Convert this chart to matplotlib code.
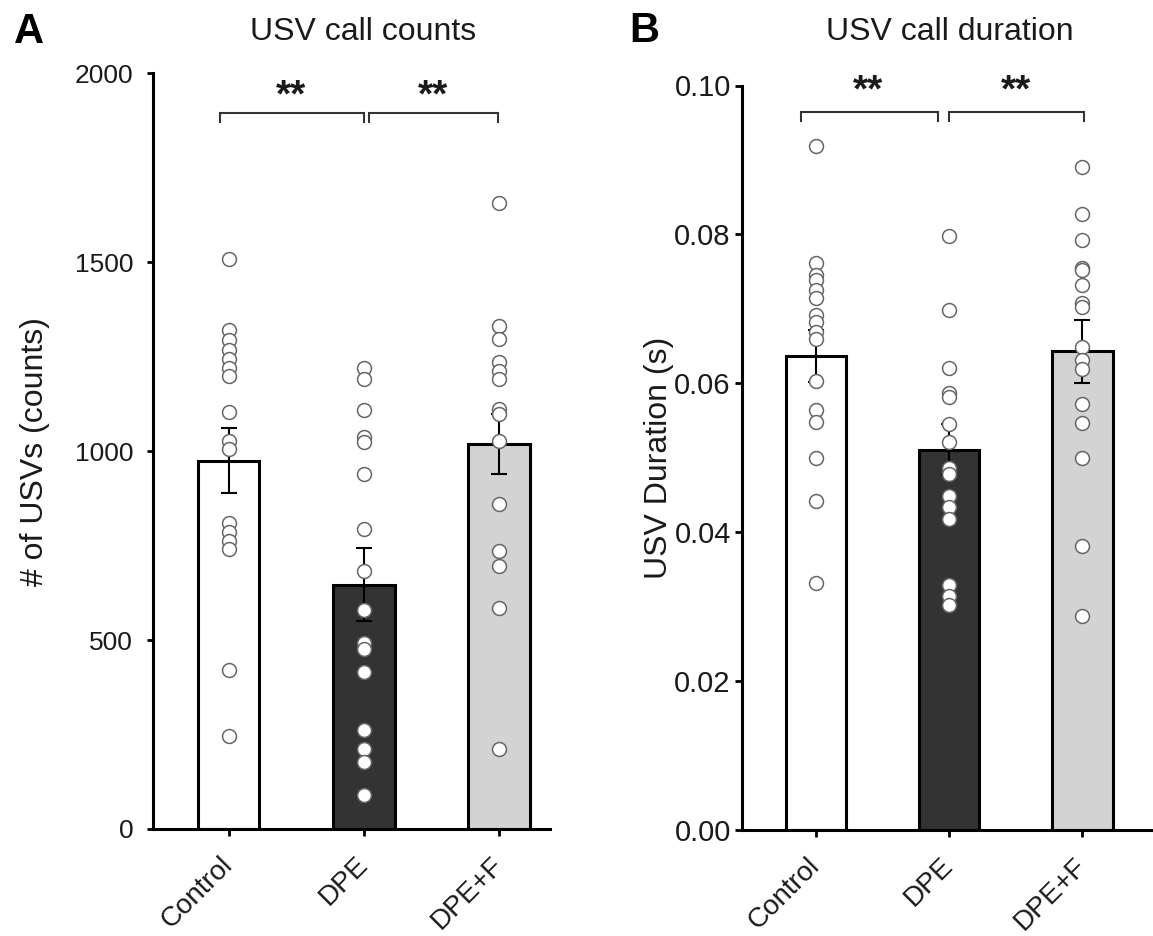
import matplotlib
matplotlib.use("Agg")
import matplotlib.pyplot as plt
import numpy as np

plt.rcParams['font.family'] = ['Liberation Sans', 'DejaVu Sans']

# ---------------- data ----------------
groups = ["Control", "DPE", "DPE+F"]

counts_control = [1509, 1320, 1294, 1267, 1244, 1221, 1199, 1103, 1028, 1005, 809, 785, 763, 742, 420, 247]
counts_dpe = [1221, 1191, 1109, 1037, 1023, 940, 793, 684, 580, 491, 477, 416, 262, 211, 178, 90]
counts_dpef = [1657, 1330, 1296, 1235, 1213, 1191, 1112, 1097, 1028, 860, 737, 697, 586, 211]
counts_mean = [975, 647, 1019]
counts_sem = [85, 97, 80]

dur_control = [0.0919, 0.0761, 0.0746, 0.0739, 0.0725, 0.0714, 0.0692, 0.0682, 0.0669, 0.0660,
               0.0603, 0.0564, 0.0548, 0.0500, 0.0442, 0.0332]
dur_dpe = [0.0798, 0.0699, 0.0620, 0.0587, 0.0582, 0.0545, 0.0521, 0.0486, 0.0478, 0.0448,
           0.0434, 0.0418, 0.0329, 0.0314, 0.0302]
dur_dpef = [0.0890, 0.0827, 0.0792, 0.0755, 0.0752, 0.0732, 0.0708, 0.0702, 0.0649, 0.0631,
            0.0619, 0.0572, 0.0547, 0.0500, 0.0382, 0.0287]
dur_mean = [0.0637, 0.0511, 0.0643]
dur_sem = [0.0035, 0.0034, 0.0042]

sig_labels = ["**", "**"]

bar_colors = ["#ffffff", "#333333", "#d3d3d3"]

W, H = 1153, 936
fig = plt.figure(figsize=(W / 100, H / 100), dpi=100)

def px_ax(left, right, top, bottom):
    return [left / W, 1 - bottom / H, (right - left) / W, (bottom - top) / H]

axA = fig.add_axes(px_ax(153.3, 550, 73.3, 829))
axB = fig.add_axes(px_ax(741.7, 1153, 85.5, 830))

def draw_panel(ax, pts_list, means, sems, ylim, yticks, yticklabels, ytick_fs, ytick_pad, ytick_len,
               xlim, brackets, stars, br_y, br_drop, star_y):
    x = np.arange(len(groups))
    ax.bar(x, means, width=0.455, color=bar_colors, edgecolor="black", linewidth=2.2, zorder=1)
    ax.errorbar(x, means, yerr=sems, fmt="none", ecolor="black", elinewidth=1.5,
                capsize=5.8, capthick=1.5, zorder=2)
    for i, pts in enumerate(pts_list):
        ax.plot(np.full(len(pts), x[i]), pts, linestyle="none", marker="o", markersize=10,
                markerfacecolor="white", markeredgecolor="#666666", markeredgewidth=1.1, zorder=3)
    ax.set_xlim(*xlim)
    ax.set_ylim(*ylim)
    ax.set_yticks(yticks)
    ax.set_yticklabels(yticklabels)
    ax.set_xticks(x)
    ax.set_xticklabels(groups)
    for s in ["top", "right"]:
        ax.spines[s].set_visible(False)
    for s in ["left", "bottom"]:
        ax.spines[s].set_linewidth(2.2)
    ax.tick_params(axis="y", labelsize=ytick_fs, length=ytick_len, width=2.0, pad=ytick_pad,
                   colors="black", labelcolor="#1a1a1a")
    ax.tick_params(axis="x", labelsize=20, length=5, width=2.0, pad=18,
                   labelcolor="#1a1a1a")
    for lab in ax.get_xticklabels():
        lab.set_rotation(45)
        lab.set_ha("right")
        lab.set_va("center")
        lab.set_rotation_mode("anchor")
    for (x0, x1) in brackets:
        ax.plot([x0, x0, x1, x1], [br_drop, br_y, br_y, br_drop], color="#333333",
                linewidth=1.5, clip_on=False, zorder=4, solid_joinstyle="miter")
    for sx, lab in zip(stars, sig_labels):
        ax.text(sx, star_y, lab, ha="center", va="baseline", fontsize=28, fontweight="bold",
                color="#1a1a1a", clip_on=False)

draw_panel(axA, [counts_control, counts_dpe, counts_dpef], counts_mean, counts_sem,
           (0, 2000), [0, 500, 1000, 1500, 2000], ["0", "500", "1000", "1500", "2000"], 19, 10, 4.5,
           (-0.556, 2.376), [(-0.06, 1.0), (1.04, 1.99)], [0.46, 1.51],
           1895, 1871, 1912)
draw_panel(axB, [dur_control, dur_dpe, dur_dpef], dur_mean, dur_sem,
           (0, 0.10), [0, 0.02, 0.04, 0.06, 0.08, 0.10],
           ["0.00", "0.02", "0.04", "0.06", "0.08", "0.10"], 21, 3, 4.8,
           (-0.557, 2.53), [(-0.11, 0.914), (1.0, 2.01)], [0.394, 1.50],
           0.09644, 0.09523, 0.0978)

axA.set_ylabel("# of USVs (counts)", fontsize=23, color="#1a1a1a")
axA.yaxis.set_label_coords(-0.2604, 0.5)
axB.set_ylabel("USV Duration (s)", fontsize=23, color="#1a1a1a")
axB.yaxis.set_label_coords(-0.1646, 0.5)

fig.text(363 / W, 1 - 40 / H, "USV call counts", ha="center", va="baseline", fontsize=23, color="#1a1a1a")
fig.text(950 / W, 1 - 39.6 / H, "USV call duration", ha="center", va="baseline", fontsize=23, color="#1a1a1a")
fig.text(14 / W, 1 - 42.8 / H, "A", ha="left", va="baseline", fontsize=30, fontweight="bold", color="black")
fig.text(629 / W, 1 - 42.4 / H, "B", ha="left", va="baseline", fontsize=30, fontweight="bold", color="black")

fig.savefig("out.png", dpi=100)
